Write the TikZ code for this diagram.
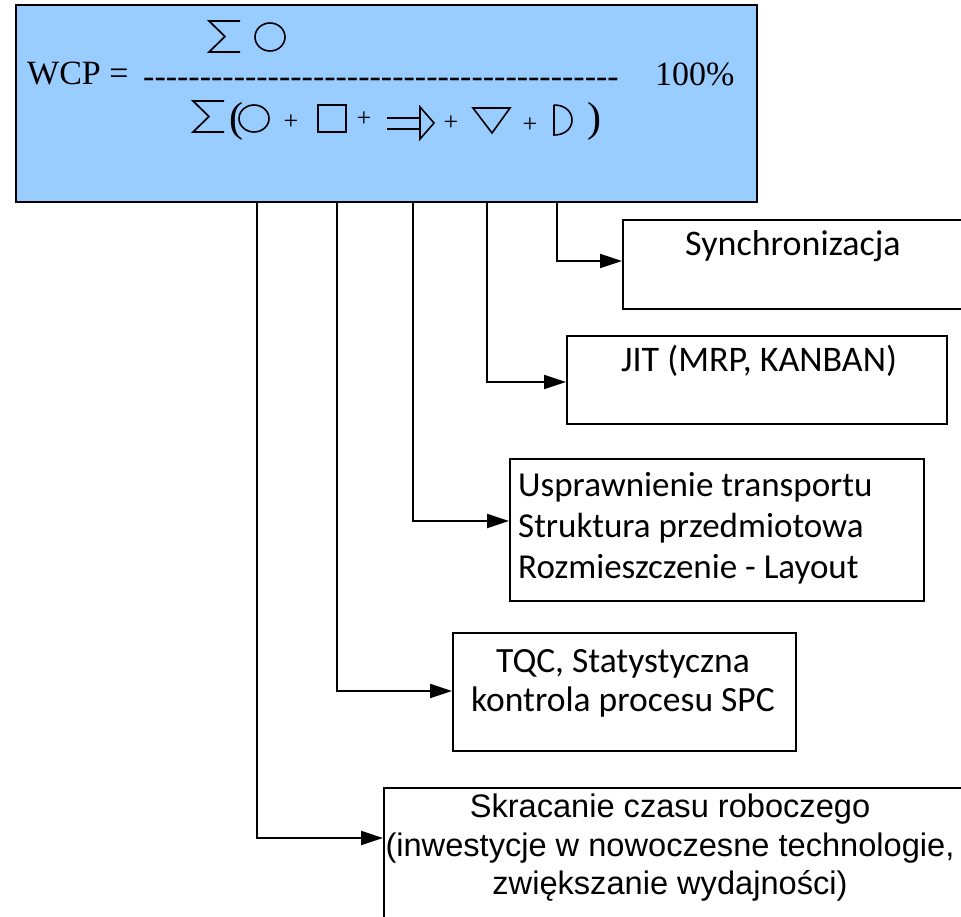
\documentclass[tikz,border=0pt]{standalone}
\usepackage{fontspec}
\setmainfont{Liberation Serif}
\newfontfamily\calib{Carlito}
\newfontfamily\arialf{Liberation Sans}
\usetikzlibrary{arrows.meta}
\definecolor{wcpblue}{HTML}{99CCFF}
% one hyphen per box, so no dash ligatures form
\newcommand\hy{\mbox{-}}
\newcommand\sixhy{\hy\hy\hy\hy\hy\hy}
\begin{document}
\begin{tikzpicture}[x=1pt,y=-1pt,
  box/.style={draw=black,line width=1.6pt,fill=white,anchor=north west,inner sep=0pt},
  conn/.style={line width=2pt,-{Triangle[length=22pt,width=14pt]}},
  glyph/.style={line width=1.6pt},
  sigma/.style={line width=1.7pt,line join=miter},
  calibtxt/.style={font=\calib\fontsize{36}{42}\selectfont,inner sep=0pt},
  ariatxt/.style={font=\arialf\fontsize{32.6}{38.5}\selectfont,inner sep=0pt},
  tnrtxt/.style={font=\fontsize{34}{40}\selectfont,inner sep=0pt},
  plustxt/.style={font=\fontsize{26}{30}\selectfont,inner sep=0pt},
  partxt/.style={font=\fontsize{42}{46}\selectfont,inner sep=0pt}]
\useasboundingbox (0,0) rectangle (961,917);

% formula box
\node[draw=black,line width=2.4pt,fill=wcpblue,anchor=north west,inner sep=0pt,
      minimum width=741pt,minimum height=197pt] (wcp) at (15,4) {};
\node[tnrtxt,anchor=base west] (lhs) at (27,85) {WCP =};
\node[tnrtxt,anchor=base west] (bar) at (143,88) {\sixhy\sixhy\sixhy\sixhy\sixhy\sixhy\sixhy};
\node[tnrtxt,anchor=base west] (pct) at (655,86) {100\%};

% numerator: sum of operations
\draw[sigma] (240,21) -- (209,21) -- (225,36.5) -- (209,52) -- (240,52);
\draw[glyph] (270,37) ellipse [x radius=15pt,y radius=14pt];

% denominator: sum of all activity symbols
\draw[sigma] (224,101) -- (193,101) -- (209,116.5) -- (193,132) -- (224,132);
\node[partxt] (lpar) at (236,121) {(};
\draw[glyph] (254,118.5) ellipse [x radius=15pt,y radius=13.5pt];
\node[plustxt] (p1) at (291,122) {+};
\draw[glyph] (318,105) rectangle (346,132);
\node[plustxt] (p2) at (364,119) {+};
\draw[glyph] (387,118) -- (420,118) (387,129) -- (420,129);
\draw[glyph,line join=miter] (420,107) -- (434,123) -- (420,139) -- cycle;
\node[plustxt] (p3) at (451,123) {+};
\draw[glyph,line join=miter] (473,108) -- (510,108) -- (492,133) -- cycle;
\node[plustxt] (p4) at (530,125) {+};
\draw[glyph] (554,105) -- (554,135) .. controls (578,135) and (578,105) .. (554,105);
\node[partxt] (rpar) at (594,121) {)};

% result boxes
\node[box,minimum width=344pt,minimum height=89pt] (sync) at (622,219) {};
\node[calibtxt,anchor=base] (synct) at (793,256) {Synchronizacja};

\node[box,minimum width=380pt,minimum height=88pt] (jit) at (566,335) {};
\node[calibtxt,anchor=base] (jitt) at (759,371) {JIT (MRP, KANBAN)};

\node[box,minimum width=414pt,minimum height=142pt] (usp) at (509,458) {};
\node[calibtxt,font=\calib\fontsize{35}{41}\selectfont,anchor=north west,align=left] (uspt) at (518,472)
  {Usprawnienie transportu\\Struktura przedmiotowa\\Rozmieszczenie - Layout};

\node[box,minimum width=343pt,minimum height=118pt] (tqc) at (452,632) {};
\node[calibtxt,font=\calib\fontsize{35.5}{39}\selectfont,anchor=north,align=center] (tqct) at (623,649)
  {TQC, Statystyczna\\kontrola procesu SPC};

\node[box,minimum width=585pt,minimum height=150pt] (skr) at (383,787) {};
\node[ariatxt,anchor=north,align=center] (skrt) at (670,794)
  {Skracanie czasu roboczego\\(inwestycje w nowoczesne technologie,\\zwiększanie wydajności)};

% connectors leaving the formula box
\coordinate (c1) at (557,201);
\coordinate (c2) at (487,201);
\coordinate (c3) at (413,201);
\coordinate (c4) at (337,201);
\coordinate (c5) at (257,201);
\draw[conn] (c1) |- ([yshift=-42pt]sync.north west);
\draw[conn] (c2) |- ([yshift=-47pt]jit.north west);
\draw[conn] (c3) |- ([yshift=-63pt]usp.north west);
\draw[conn] (c4) |- ([yshift=-59pt]tqc.north west);
\draw[conn] (c5) |- ([yshift=-51pt]skr.north west);
\end{tikzpicture}
\end{document}
